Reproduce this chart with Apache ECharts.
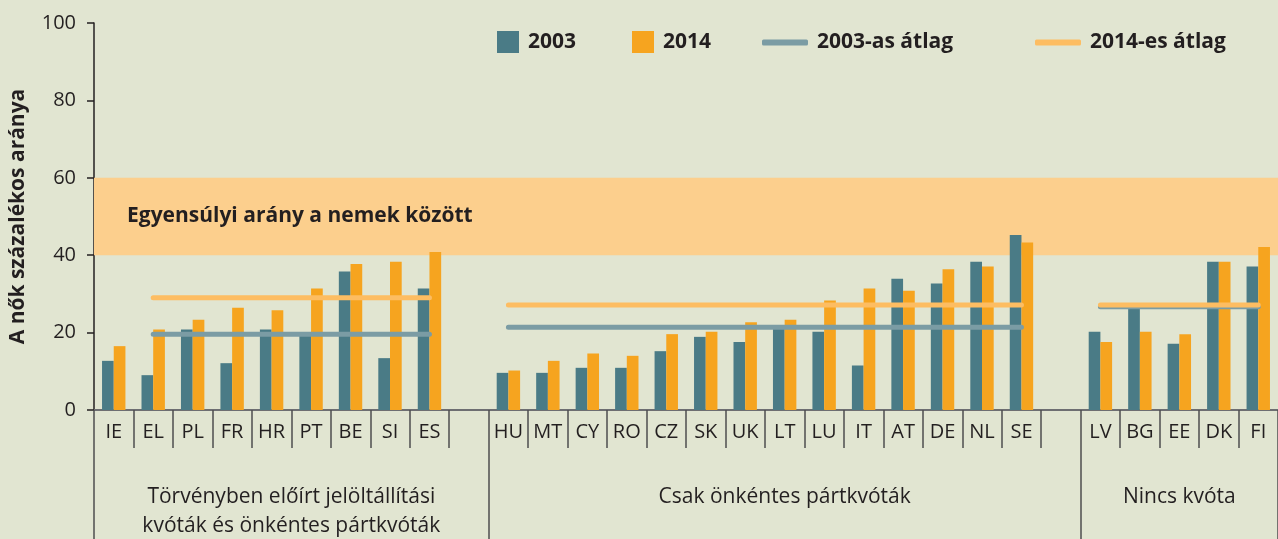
<!DOCTYPE html>
<html><head><meta charset="utf-8">
<script src="https://cdn.jsdelivr.net/npm/echarts@6/dist/echarts.min.js"></script>
<style>html,body{margin:0;padding:0;background:#e1e5d1}#c{width:1278px;height:539px}</style>
</head><body><div id="c"></div>
<script>
const categories = ['IE','EL','PL','FR','HR','PT','BE','SI','ES','',
  'HU','MT','CY','RO','CZ','SK','UK','LT','LU','IT','AT','DE','NL','SE',' ',
  'LV','BG','EE','DK','FI'];
const values2003 = [12.7,9.0,20.8,12.1,20.8,20.0,35.8,13.4,31.4,null,
  9.6,9.6,10.9,10.9,15.2,18.9,17.6,21.5,20.2,11.5,33.9,32.7,38.3,45.2,null,
  20.2,26.8,17.1,38.3,37.1];
const values2014 = [16.5,20.8,23.3,26.4,25.8,31.4,37.7,38.3,40.8,null,
  10.2,12.7,14.6,14.0,19.6,20.2,22.7,23.3,28.3,31.4,30.8,36.4,37.1,43.3,null,
  17.6,20.2,19.6,38.3,42.1];
const avg2003 = [null,19.6,19.6,19.6,19.6,19.6,19.6,19.6,19.6,null,
  21.4,21.4,21.4,21.4,21.4,21.4,21.4,21.4,21.4,21.4,21.4,21.4,21.4,21.4,null,
  26.7,26.7,26.7,26.7,26.7];
const avg2014 = [null,29.0,29.0,29.0,29.0,29.0,29.0,29.0,29.0,null,
  27.1,27.1,27.1,27.1,27.1,27.1,27.1,27.1,27.1,27.1,27.1,27.1,27.1,27.1,null,
  27.1,27.1,27.1,27.1,27.1];
const bandRange = [40, 60];
const bandLabel = 'Egyensúlyi arány a nemek között';
const groupLabels = ['Törvényben előírt jelöltállítási\nkvóták és önkéntes pártkvóták','Csak önkéntes pártkvóták','Nincs kvóta'];
const groupRanges = [[0,9],[10,24],[25,29]];
const groupDividers = [0,10,25];
const yAxisTitle = 'A nők százalékos aránya';
const seriesNames = ['2003','2014','2003-as átlag','2014-es átlag'];

const FF = "'Open Sans', sans-serif";
const TXT = '#231f20';
const chart = echarts.init(document.getElementById('c'), null, {renderer:'canvas'});

const legendText = {fontWeight:'bold', fontSize:21, color:TXT, fontFamily:FF, padding:[0,0,0,4]};
const option = {
  backgroundColor:'#e1e5d1',
  animation:false,
  grid:{left:94, top:23, width:1186, height:387, containLabel:false},
  legend:[
    {data:[seriesNames[0]], left:492, top:26, itemWidth:22, itemHeight:22, icon:'rect', selectedMode:false, textStyle:legendText},
    {data:[seriesNames[1]], left:627, top:26, itemWidth:22, itemHeight:22, icon:'rect', selectedMode:false, textStyle:legendText},
    {data:[seriesNames[2]], left:757, top:27, itemWidth:46, itemHeight:6, icon:'roundRect', selectedMode:false, textStyle:legendText},
    {data:[seriesNames[3]], left:1030, top:27, itemWidth:46, itemHeight:6, icon:'roundRect', selectedMode:false, textStyle:legendText}
  ],
  xAxis:[
    {type:'category', data:categories, boundaryGap:true,
     axisLine:{show:true, lineStyle:{color:'#6d6e71', width:2}},
     axisTick:{show:true, interval:0, length:38, lineStyle:{color:'#4d4d4f', width:1.5}},
     axisLabel:{interval:0, margin:12, fontSize:20, color:TXT, fontFamily:FF}},
    {type:'category', data:categories, boundaryGap:true, position:'bottom',
     axisLine:{show:false}, axisLabel:{show:false},
     axisTick:{show:true, length:129, interval:function(i){return groupDividers.indexOf(i) >= 0;}, lineStyle:{color:'#4d4d4f', width:1.5}}}
  ],
  yAxis:{type:'value', min:0, max:100, interval:20,
    splitLine:{show:false},
    axisLine:{show:true, lineStyle:{color:TXT, width:1.5}},
    axisTick:{show:true, length:7, lineStyle:{color:TXT, width:1.5}},
    axisLabel:{fontSize:20, color:TXT, fontFamily:FF, margin:18},
    name:yAxisTitle, nameLocation:'middle', nameGap:65,
    nameTextStyle:{fontWeight:'bold', fontSize:21, color:TXT, fontFamily:FF}},
  series:[
    {type:'line', data:[], z:1, silent:true,
     markArea:{silent:true, itemStyle:{color:'#fccf8d'},
       label:{show:true, position:'insideLeft', distance:33, formatter:bandLabel, fontWeight:'bold', fontSize:21, color:TXT, fontFamily:FF},
       data:[[{yAxis:bandRange[0]},{yAxis:bandRange[1]}]]}},
    {name:seriesNames[0], type:'bar', data:values2003, barWidth:11.7, barGap:'0%', itemStyle:{color:'#4a7b86'}, z:2},
    {name:seriesNames[1], type:'bar', data:values2014, barWidth:11.7, barGap:'0%', itemStyle:{color:'#f6a41f'}, z:2},
    {name:seriesNames[2], type:'line', data:avg2003, symbol:'none', connectNulls:false,
     lineStyle:{color:'#7b9ca4', width:5, cap:'round'}, itemStyle:{color:'#7b9ca4'}, z:3},
    {name:seriesNames[3], type:'line', data:avg2014, symbol:'none', connectNulls:false,
     lineStyle:{color:'#fdbd62', width:5, cap:'round'}, itemStyle:{color:'#fdbd62'}, z:4}
  ]
};
chart.setOption(option);

const y0 = chart.convertToPixel({yAxisIndex:0}, 0);
const graphics = groupRanges.map(function(r, k){
  const xa = chart.convertToPixel({xAxisIndex:0}, categories[r[0]]);
  const xb = chart.convertToPixel({xAxisIndex:0}, categories[r[1]]);
  return {type:'text', x:(xa+xb)/2, y:y0 + 73, z:10,
    style:{text:groupLabels[k], fill:TXT, fontSize:21, fontFamily:FF, align:'center', verticalAlign:'top', lineHeight:29}};
});
chart.setOption({graphic:graphics});
</script></body></html>
